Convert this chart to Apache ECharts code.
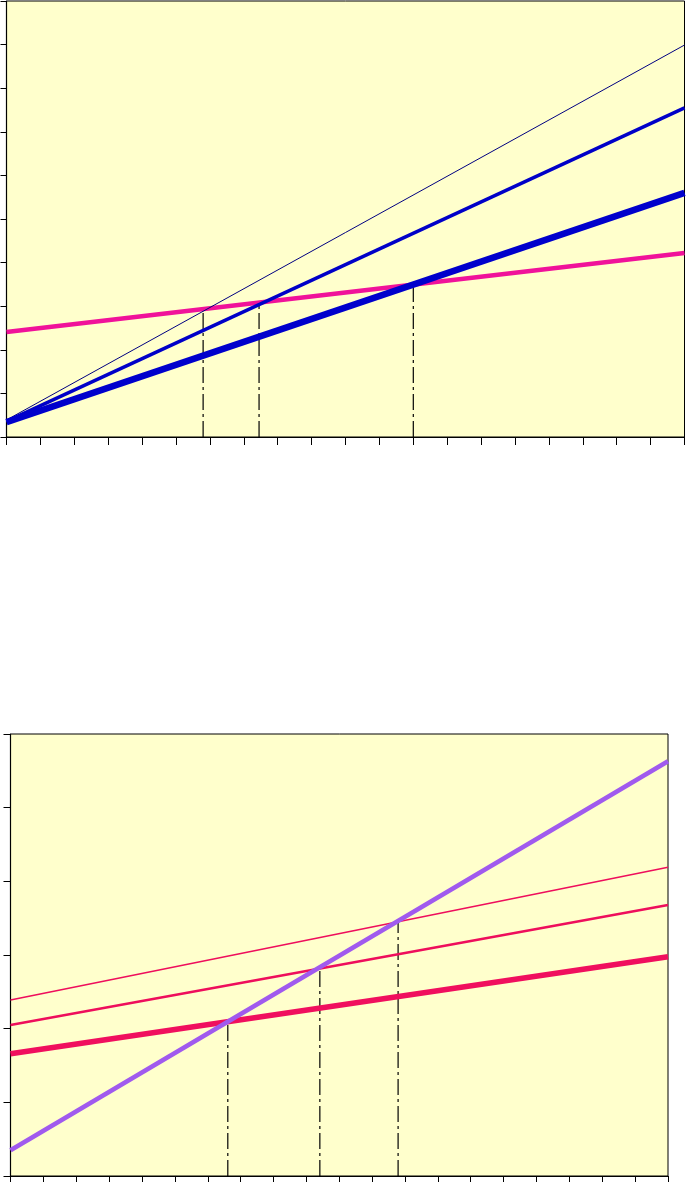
<!DOCTYPE html>
<html>
<head>
<meta charset="utf-8">
<script src="https://cdn.jsdelivr.net/npm/echarts@6/dist/echarts.min.js"></script>
<style>
html,body{margin:0;padding:0;background:#fff;}
#c{width:686px;height:1183px;}
</style>
</head>
<body>
<div id="c"></div>
<script>
// ---- Top chart data ----
var topX = [0, 20];
var topPink = [2.41, 4.22];
var topNavyThin = [0.39, 8.99];
var topBlueMid = [0.36, 7.55];
var topBlueThick = [0.34, 5.6];
var topDropX = [5.8, 7.45, 12.0];
var topDropY = [2.93, 3.08, 3.5];

// ---- Bottom chart data ----
var botX = [0, 20];
var botPurple = [0.35, 5.63];
var botThin = [2.39, 4.19];
var botMid = [2.05, 3.68];
var botThick = [1.66, 2.975];
var botDropX = [6.61, 9.41, 11.79];
var botDropY = [2.095, 2.82, 3.45];

function pairs(xs, ys){ return xs.map(function(x,i){ return [x, ys[i]]; }); }

var dashType = [16, 4, 3, 4];

function lineSeries(gi, xs, ys, color, width, z){
  return {type:'line', xAxisIndex:gi, yAxisIndex:gi, data:pairs(xs, ys), symbol:'none', silent:true,
    lineStyle:{color:color, width:width}, z:z, animation:false};
}
function dropSeries(gi, dx, dy){
  return dx.map(function(x,i){
    return {type:'line', xAxisIndex:gi, yAxisIndex:gi, data:[[x,0],[x,dy[i]]], symbol:'none', silent:true,
      lineStyle:{color:'#000', width:1.2, type:dashType}, z:1, animation:false};
  });
}

function xAxis(gi, tickLen){
  return {type:'value', gridIndex:gi, min:0, max:20, interval:1,
    axisLine:{show:true, onZero:false, lineStyle:{color:'#000', width:1.2}},
    axisTick:{show:true, length:tickLen, lineStyle:{color:'#000'}},
    axisLabel:{show:false}, splitLine:{show:false}};
}
function yAxis(gi, max, tickLen){
  return {type:'value', gridIndex:gi, min:0, max:max, interval:1,
    axisLine:{show:true, onZero:false, lineStyle:{color:'#000', width:1.2}},
    axisTick:{show:true, length:tickLen, lineStyle:{color:'#000'}},
    axisLabel:{show:false}, splitLine:{show:false}};
}

var chart = echarts.init(document.getElementById('c'), null, {renderer:'canvas'});
var series = [];
series = series.concat(dropSeries(0, topDropX, topDropY));
series.push(lineSeries(0, topX, topPink, '#F0129A', 4.5, 2));
series.push(lineSeries(0, topX, topNavyThin, '#000080', 1, 3));
series.push(lineSeries(0, topX, topBlueMid, '#0000C8', 3.5, 4));
series.push(lineSeries(0, topX, topBlueThick, '#0000CC', 6.5, 5));
series = series.concat(dropSeries(1, botDropX, botDropY));
series.push(lineSeries(1, botX, botThin, '#EE0E5C', 1.5, 2));
series.push(lineSeries(1, botX, botMid, '#EE0E5C', 2.5, 3));
series.push(lineSeries(1, botX, botThick, '#F00F5E', 5.5, 4));
series.push(lineSeries(1, botX, botPurple, '#A05AEE', 4.5, 5));

chart.setOption({
  animation:false,
  grid:[
    {left:6.5, top:1, right:1.5, bottom:746, show:true, backgroundColor:'#FFFFCC', borderColor:'#000', borderWidth:1},
    {left:10.5, top:734, right:18, bottom:7, show:true, backgroundColor:'#FFFFCC', borderColor:'#000', borderWidth:1}
  ],
  xAxis:[xAxis(0, 8), xAxis(1, 6)],
  yAxis:[yAxis(0, 10, 6), yAxis(1, 6, 7)],
  series:series
});
</script>
</body>
</html>
